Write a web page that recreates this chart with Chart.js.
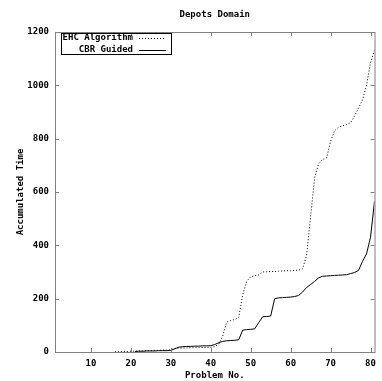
<!DOCTYPE html>
<html>
<head>
<meta charset="utf-8">
<script src="https://cdn.jsdelivr.net/npm/chart.js@4/dist/chart.umd.min.js"></script>
<style>
    body { margin: 0; background: #fff; }
    #wrap { width: 382px; height: 381px; }
</style>
</head>
<body>
<div id="wrap"><canvas id="chart"></canvas></div>
<script>
// problem numbers 15..81
const problems = [15, 16, 17, 18, 19, 20, 21, 22, 23, 24, 25, 26, 27, 28, 29, 30,
    31, 32, 33, 34, 35, 36, 37, 38, 39, 40, 41, 42, 43, 44, 45, 46, 47, 48, 49, 50,
    51, 52, 53, 54, 55, 56, 57, 58, 59, 60, 61, 62, 63, 64, 65, 66, 67, 68, 69, 70,
    71, 72, 73, 74, 75, 76, 77, 78, 79, 80, 81];

const ehcTime = [null, 1, 1, 2, 2, 3, 3, 4, 4, 5, 5, 6, 6, 7, 7, 8,
    14, 15, 15, 15, 16, 16, 16, 17, 17, 18, 20, 30, 60, 112, 118, 122, 130, 215, 265, 282,
    286, 289, 300, 301, 302, 302, 303, 304, 305, 305, 306, 307, 312, 363, 508, 653, 706, 722, 728, 790,
    830, 843, 848, 853, 860, 885, 915, 945, 1000, 1085, 1132];

const cbrTime = [null, null, null, null, null, null, 2, 3, 3, 4, 4, 4, 5, 5, 5, 6,
    12, 18, 20, 21, 21, 22, 22, 23, 23, 24, 28, 35, 40, 42, 43, 44, 46, 82, 84, 85,
    87, 110, 132, 133, 135, 200, 203, 204, 205, 206, 208, 212, 225, 242, 253, 265, 278, 284, 285, 286,
    287, 288, 289, 290, 294, 298, 306, 340, 368, 430, 565];

const seriesNames = ['EHC Algorithm', 'CBR Guided'];
const xTicks = [10, 20, 30, 40, 50, 60, 70, 80];
const yTicks = [0, 200, 400, 600, 800, 1000, 1200];
const chartTitle = 'Depots Domain';

const FONT = 'DejaVu Sans Mono';

function toPoints(vals) {
    return problems.map((p, i) => ({ x: p, y: vals[i] }));
}

// gnuplot style frame, inward ticks, title over the plot and boxed key
const framePlugin = {
    id: 'frame',
    afterDatasetsDraw(chart) {
        const { ctx, chartArea: a, scales } = chart;
        ctx.save();
        ctx.strokeStyle = '#808080';
        ctx.lineWidth = 1;
        ctx.strokeRect(a.left + 0.5, a.top + 0.5, a.right - a.left, a.bottom - a.top);

        ctx.beginPath();
        scales.x.ticks.forEach(t => {
            const px = Math.round(scales.x.getPixelForValue(t.value)) + 0.5;
            ctx.moveTo(px, a.bottom); ctx.lineTo(px, a.bottom - 4);
            ctx.moveTo(px, a.top); ctx.lineTo(px, a.top + 4);
        });
        scales.y.ticks.forEach(t => {
            const py = Math.round(scales.y.getPixelForValue(t.value)) + 0.5;
            ctx.moveTo(a.left, py); ctx.lineTo(a.left + 4, py);
            ctx.moveTo(a.right, py); ctx.lineTo(a.right - 4, py);
        });
        ctx.stroke();

        ctx.font = 'bold 9px "' + FONT + '"';
        ctx.fillStyle = '#000';
        ctx.textBaseline = 'middle';

        // title centred on the plot
        ctx.textAlign = 'center';
        ctx.fillText(chartTitle, (a.left + a.right) / 2, 15);

        // key
        const kx = a.left + 6, ky = a.top + 1;
        ctx.strokeStyle = '#000';
        ctx.strokeRect(kx + 0.5, ky + 0.5, 110, 21);
        ctx.textAlign = 'right';
        const dashes = [[1, 2], []];
        chart.data.datasets.forEach((ds, i) => {
            const y = ky + 5 + i * 12;
            ctx.fillText(ds.label, kx + 72, y);
            ctx.setLineDash(dashes[i]);
            ctx.beginPath();
            ctx.moveTo(kx + 78, y + 0.5);
            ctx.lineTo(kx + 105, y + 0.5);
            ctx.stroke();
        });
        ctx.restore();
    }
};

function initChart() {
    const tickFont = { family: FONT, size: 9, weight: 'bold' };

    const data = {
        datasets: [{
            label: seriesNames[0],
            data: toPoints(ehcTime),
            borderColor: '#000',
            borderWidth: 1,
            borderDash: [1, 2],
            pointRadius: 0,
            tension: 0
        }, {
            label: seriesNames[1],
            data: toPoints(cbrTime),
            borderColor: '#000',
            borderWidth: 1,
            pointRadius: 0,
            tension: 0
        }]
    };

    const options = {
        responsive: true,
        maintainAspectRatio: false,
        animation: false,
        devicePixelRatio: 1,
        layout: { padding: { left: 0, right: 5, top: 32, bottom: 0 } },
        plugins: {
            legend: { display: false },
            tooltip: { enabled: false },
            title: { display: false }
        },
        scales: {
            x: {
                type: 'linear',
                min: 1,
                max: 81,
                afterBuildTicks: s => { s.ticks = xTicks.map(v => ({ value: v })); },
                afterFit: s => { s.height = 29; },
                grid: { display: false, drawTicks: false },
                border: { display: false },
                ticks: { color: '#000', font: tickFont, padding: 6, maxRotation: 0 },
                title: {
                    display: true,
                    text: 'Problem No.',
                    color: '#000',
                    font: tickFont,
                    padding: { top: 0, bottom: 0 }
                }
            },
            y: {
                min: 0,
                max: 1200,
                afterBuildTicks: s => { s.ticks = yTicks.map(v => ({ value: v })); },
                afterFit: s => { s.width = 55; },
                grid: { display: false, drawTicks: false },
                border: { display: false },
                ticks: {
                    color: '#000',
                    font: tickFont,
                    padding: 6,
                    callback: v => String(v)
                },
                title: {
                    display: true,
                    text: 'Accumulated Time',
                    color: '#000',
                    font: tickFont,
                    padding: { top: 15, bottom: 0 }
                }
            }
        }
    };

    const ctx = document.getElementById('chart').getContext('2d');
    new Chart(ctx, {
        type: 'line',
        data: data,
        options: options,
        plugins: [framePlugin]
    });
}

document.addEventListener('DOMContentLoaded', initChart);
</script>
</body>
</html>
